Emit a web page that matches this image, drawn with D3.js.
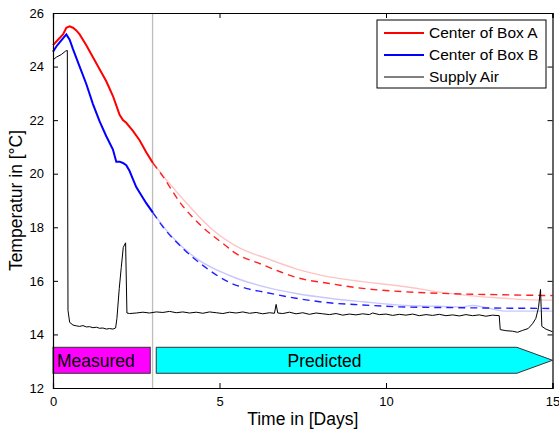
<!DOCTYPE html>
<html lang="en">
<head>
<meta charset="UTF-8">
<script src="https://d3js.org/d3.v7.min.js"></script>
<style>
    body { margin: 0; background: #fff; }
    text { font-family: "Liberation Sans", Arial, sans-serif; }
</style>
<title>Temperature</title>
</head>
<body>
<script>
// Center of Box A, measured (days, degC)
const boxATime = [0, 0.15, 0.3, 0.4, 0.5, 0.6, 0.7, 0.8, 1.0, 1.2, 1.4, 1.6, 1.8, 1.9, 2.0, 2.1, 2.2, 2.3, 2.4, 2.6, 2.8, 3.0];
const boxATemp = [24.8, 25.0, 25.2, 25.45, 25.5, 25.45, 25.35, 25.2, 24.8, 24.35, 23.9, 23.45, 22.9, 22.55, 22.2, 22.0, 21.9, 21.75, 21.6, 21.25, 20.8, 20.4];

// Center of Box B, measured
const boxBTime = [0, 0.1, 0.2, 0.3, 0.4, 0.5, 0.6, 0.8, 1.0, 1.2, 1.4, 1.6, 1.8, 1.9, 2.0, 2.1, 2.2, 2.3, 2.4, 2.5, 2.6, 2.8, 3.0];
const boxBTemp = [24.55, 24.75, 24.9, 25.05, 25.2, 25.0, 24.65, 24.0, 23.35, 22.6, 21.95, 21.4, 20.9, 20.45, 20.45, 20.4, 20.32, 20.1, 19.8, 19.5, 19.3, 18.9, 18.55];

// predicted, dashed
const predATime = [3.0, 3.3, 3.8, 4.5, 5.2, 5.4, 6.3, 6.8, 7.3, 8.3, 9.3, 10.6, 12.0, 13.5, 15.0];
const predATemp = [20.4, 19.9, 18.95, 18.0, 17.3, 17.1, 16.6, 16.35, 16.13, 15.9, 15.72, 15.59, 15.52, 15.48, 15.45];
const predBTime = [3.0, 3.3, 3.9, 4.55, 5.3, 5.8, 6.3, 7.3, 8.3, 9.3, 10.4, 12.0, 15.0];
const predBTemp = [18.55, 18.02, 17.21, 16.53, 15.94, 15.72, 15.59, 15.35, 15.18, 15.1, 15.03, 15.0, 14.97];

// predicted, second model (light lines)
const altATime = [3.0, 3.4, 4.05, 4.8, 5.5, 6.5, 7.3, 8.3, 9.3, 10.6, 11.5, 12.5, 13.4, 14.2, 15.0];
const altATemp = [20.4, 19.78, 18.85, 17.9, 17.3, 16.8, 16.45, 16.15, 15.97, 15.78, 15.6, 15.45, 15.36, 15.3, 15.28];
const altBTime = [3.0, 3.5, 4.3, 5.3, 6.6, 7.3, 8.3, 9.3, 10.6, 11.5, 12.3, 12.6, 13.0, 13.6, 15.0];
const altBTemp = [18.55, 17.75, 16.84, 16.2, 15.7, 15.53, 15.35, 15.22, 15.08, 15.05, 15.03, 15.08, 15.0, 14.87, 14.87];

// Supply Air
const airTime = [0, 0.1, 0.25, 0.38, 0.43, 0.45, 0.5, 0.6, 0.7, 0.8, 0.9, 1.0, 1.1, 1.2, 1.3, 1.4, 1.5, 1.6, 1.7, 1.8, 1.88,
    1.92, 1.99, 2.05, 2.11, 2.18, 2.22,
    2.3, 2.5, 2.7, 2.9, 3.1, 3.3, 3.5, 3.7, 3.9, 4.1, 4.3, 4.5, 4.7, 4.9, 5.1, 5.3, 5.5, 5.7, 5.9, 6.1, 6.3, 6.5,
    6.65, 6.7, 6.75, 6.9, 7.1, 7.3, 7.5, 7.7, 7.9, 8.1, 8.3, 8.5, 8.7, 8.9, 9.1, 9.3, 9.5, 9.6, 9.8, 10.0,
    10.2, 10.4, 10.6, 10.8, 11.0, 11.2, 11.4, 11.6, 11.8, 12.0, 12.2, 12.4, 12.6, 12.8, 13.0, 13.2, 13.4,
    13.43, 13.6, 13.8, 13.95, 14.1, 14.27, 14.4, 14.5, 14.58, 14.64, 14.68, 14.8, 15.0];
const airTemp = [24.25, 24.35, 24.45, 24.58, 24.6, 14.9, 14.45, 14.35, 14.32, 14.3, 14.33, 14.28, 14.29, 14.25, 14.27, 14.23, 14.24, 14.2, 14.22, 14.2, 14.24,
    14.6, 15.72, 16.5, 17.25, 17.42, 14.8,
    14.78, 14.8, 14.83, 14.8, 14.84, 14.82, 14.86, 14.81, 14.84, 14.8, 14.83, 14.79, 14.84, 14.81, 14.78, 14.83, 14.8, 14.84, 14.79, 14.82, 14.77, 14.81,
    14.79, 15.12, 14.8, 14.78, 14.83, 14.77, 14.81, 14.75, 14.8, 14.77, 14.74, 14.78, 14.72, 14.76, 14.73, 14.77, 14.74, 14.8, 14.74, 14.76,
    14.71, 14.75, 14.72, 14.76, 14.7, 14.74, 14.71, 14.75, 14.7, 14.73, 14.69, 14.74, 14.7, 14.73, 14.68, 14.72, 14.7,
    14.18, 14.14, 14.12, 14.08, 14.15, 14.22, 14.4, 14.6, 15.0, 15.68, 14.3, 14.2, 14.1];

const xTicks = [0, 5, 10, 15];
const yTicks = [12, 14, 16, 18, 20, 22, 24, 26];
const legendLabels = ['Center of Box A', 'Center of Box B', 'Supply Air'];

const W = 559, H = 432;
const pLeft = 53, pRight = 552.5, pTop = 13, pBottom = 388;

const svg = d3.select('body').append('svg')
    .attr('width', W)
    .attr('height', H);

const x = d3.scaleLinear().domain([0, 15]).range([pLeft, pRight]);
const y = d3.scaleLinear().domain([12, 26]).range([pBottom, pTop]);

const zip = (ts, vs) => ts.map((t, i) => [t, vs[i]]);
const line = d3.line().x(d => x(d[0])).y(d => y(d[1]));
const smooth = d3.line().x(d => x(d[0])).y(d => y(d[1])).curve(d3.curveMonotoneX);

// vertical line between measured and predicted
svg.append('line')
    .attr('x1', x(2.99)).attr('x2', x(2.99))
    .attr('y1', pTop).attr('y2', pBottom)
    .attr('stroke', '#bdbdbd')
    .attr('stroke-width', 1.3);

// light lines
svg.append('path').attr('d', smooth(zip(altATime, altATemp)))
    .attr('fill', 'none').attr('stroke', '#ffc4c4').attr('stroke-width', 1.4);
svg.append('path').attr('d', smooth(zip(altBTime, altBTemp)))
    .attr('fill', 'none').attr('stroke', '#c8c8ff').attr('stroke-width', 1.4);

// dashed predictions
svg.append('path').attr('d', smooth(zip(predATime, predATemp)))
    .attr('fill', 'none').attr('stroke', '#ff2020').attr('stroke-width', 1.4)
    .attr('stroke-dasharray', '7,5');
svg.append('path').attr('d', smooth(zip(predBTime, predBTemp)))
    .attr('fill', 'none').attr('stroke', '#2020ff').attr('stroke-width', 1.4)
    .attr('stroke-dasharray', '7,5');

// supply air
svg.append('path').attr('d', line(zip(airTime, airTemp)))
    .attr('fill', 'none').attr('stroke', 'black').attr('stroke-width', 1);

// measured
svg.append('path').attr('d', line(zip(boxATime, boxATemp)))
    .attr('fill', 'none').attr('stroke', '#ff0000').attr('stroke-width', 2);
svg.append('path').attr('d', line(zip(boxBTime, boxBTemp)))
    .attr('fill', 'none').attr('stroke', '#0000ff').attr('stroke-width', 2);

// Measured / Predicted bars
const yTop = y(13.52), yBot = y(12.55), yMid = (yTop + yBot) / 2;
svg.append('rect')
    .attr('x', x(0)).attr('y', yTop)
    .attr('width', x(2.92) - x(0)).attr('height', yBot - yTop)
    .attr('fill', '#ff00ff').attr('stroke', '#333').attr('stroke-width', 1);
svg.append('text')
    .attr('x', x(0) + 4).attr('y', yMid + 6.3)
    .attr('font-size', '17.5px')
    .text('Measured');

svg.append('polygon')
    .attr('points', [[x(3.1), yTop], [x(13.93), yTop], [x(15), yMid], [x(13.93), yBot], [x(3.1), yBot]].join(' '))
    .attr('fill', '#00ffff').attr('stroke', '#333').attr('stroke-width', 1);
svg.append('text')
    .attr('x', 324.5).attr('y', yMid + 6.3)
    .attr('text-anchor', 'middle')
    .attr('font-size', '17.5px')
    .text('Predicted');

// axes, ticks inside and mirrored
const axB = svg.append('g').attr('transform', `translate(0,${pBottom})`)
    .call(d3.axisBottom(x).tickValues(xTicks).tickSize(-5).tickPadding(9));
const axT = svg.append('g').attr('transform', `translate(0,${pTop})`)
    .call(d3.axisTop(x).tickValues(xTicks).tickSize(-5).tickFormat(''));
const axL = svg.append('g').attr('transform', `translate(${pLeft},0)`)
    .call(d3.axisLeft(y).tickValues(yTicks).tickSize(-5).tickPadding(9));
const axR = svg.append('g').attr('transform', `translate(${pRight},0)`)
    .call(d3.axisRight(y).tickValues(yTicks).tickSize(-5).tickFormat(''));

[axB, axT, axL, axR].forEach(a => {
    a.select('.domain').attr('stroke', 'black').attr('stroke-width', 1.2);
    a.selectAll('.tick line').attr('stroke', 'black');
    a.selectAll('text')
        .attr('font-family', '"Liberation Sans", Arial, sans-serif')
        .attr('font-size', '13px')
        .attr('fill', 'black');
});

// axis labels
svg.append('text')
    .attr('x', (pLeft + pRight) / 2)
    .attr('y', 425)
    .attr('text-anchor', 'middle')
    .attr('font-size', '17.5px')
    .text('Time in [Days]');

svg.append('text')
    .attr('transform', `translate(22,${(pTop + pBottom) / 2}) rotate(-90)`)
    .attr('text-anchor', 'middle')
    .attr('font-size', '17.5px')
    .text('Temperatur in [°C]');

// legend
svg.append('rect')
    .attr('x', 377).attr('y', 20)
    .attr('width', 169).attr('height', 68)
    .attr('fill', 'white').attr('stroke', 'black').attr('stroke-width', 1);

const legendColors = ['#ff0000', '#0000ff', 'black'];
const legendWidths = [2, 2, 1];
const legend = svg.append('g')
    .selectAll()
    .data(legendLabels)
    .enter()
    .append('g')
    .attr('transform', (d, i) => `translate(384, ${33 + i * 22})`);

legend.append('line')
    .attr('x1', 0).attr('x2', 40)
    .attr('stroke', (d, i) => legendColors[i])
    .attr('stroke-width', (d, i) => legendWidths[i]);

legend.append('text')
    .attr('x', 45).attr('y', 5.3)
    .attr('font-size', '15.5px')
    .text(d => d);
</script>
</body>
</html>
